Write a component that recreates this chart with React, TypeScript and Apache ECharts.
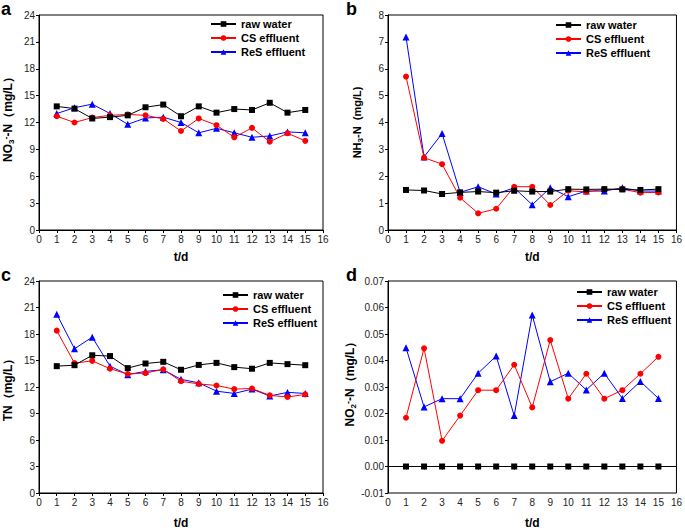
import React, { useEffect, useRef } from "react";
import * as echarts from "echarts";

const days = [1, 2, 3, 4, 5, 6, 7, 8, 9, 10, 11, 12, 13, 14, 15];
const seriesNames = ["raw water", "CS effluent", "ReS effluent"];

// Panel a: NO3- -N
const no3Raw = [13.8, 13.55, 12.45, 12.6, 12.8, 13.7, 14.0, 12.7, 13.8, 13.1, 13.5, 13.4, 14.2, 13.1, 13.4];
const no3CS = [12.7, 12.0, 12.55, 12.8, 12.9, 12.8, 12.4, 11.05, 12.45, 11.7, 10.35, 11.4, 9.85, 10.8, 9.95];
const no3ReS = [13.0, 13.65, 14.05, 13.0, 11.8, 12.5, 12.6, 12.0, 10.85, 11.35, 10.85, 10.35, 10.5, 10.95, 10.85];

// Panel b: NH3-N
const nh3Raw = [1.49, 1.47, 1.34, 1.4, 1.43, 1.39, 1.46, 1.43, 1.43, 1.52, 1.51, 1.52, 1.51, 1.49, 1.52];
const nh3CS = [5.71, 2.69, 2.45, 1.2, 0.62, 0.79, 1.61, 1.61, 0.93, 1.46, 1.42, 1.51, 1.52, 1.39, 1.4];
const nh3ReS = [7.18, 2.72, 3.59, 1.4, 1.61, 1.34, 1.57, 0.94, 1.57, 1.24, 1.45, 1.45, 1.57, 1.45, 1.45];

// Panel c: TN
const tnRaw = [14.36, 14.47, 15.59, 15.5, 14.14, 14.66, 14.85, 13.95, 14.5, 14.73, 14.25, 14.07, 14.73, 14.59, 14.47];
const tnCS = [18.38, 14.7, 14.96, 14.07, 13.47, 13.58, 14.0, 12.65, 12.35, 12.17, 11.76, 11.83, 11.05, 10.87, 11.16];
const tnReS = [20.24, 16.33, 17.64, 14.36, 13.4, 13.77, 13.95, 12.87, 12.47, 11.53, 11.27, 11.76, 10.98, 11.39, 11.27];

// Panel d: NO2- -N
const no2Raw = [0, 0, 0, 0, 0, 0, 0, 0, 0, 0, 0, 0, 0, 0, 0];
const no2CS = [0.0184, 0.0446, 0.0097, 0.0192, 0.0288, 0.0288, 0.0384, 0.0223, 0.0477, 0.0256, 0.035, 0.0256, 0.0288, 0.035, 0.0414];
const no2ReS = [0.0448, 0.0225, 0.0256, 0.0256, 0.0352, 0.0417, 0.0192, 0.0572, 0.032, 0.0352, 0.0289, 0.0352, 0.0257, 0.0321, 0.0257];

const panelLetters = ["a", "b", "c", "d"];
const yNames = [
  "NO{sub|3}{sup|-}-N（mg/L）",
  "NH{sub|3}-N  (mg/L)",
  "TN（mg/L）",
  "NO{sub|2}{sup|-}-N（mg/L）",
];
const yRanges = [
  [0, 24, 3],
  [0, 8, 1],
  [0, 24, 3],
  [-0.01, 0.07, 0.01],
];
const panelData = [
  [no3Raw, no3CS, no3ReS],
  [nh3Raw, nh3CS, nh3ReS],
  [tnRaw, tnCS, tnReS],
  [no2Raw, no2CS, no2ReS],
];

const FONT = "'Liberation Sans', Arial, Helvetica, sans-serif";
const colors = ["#000000", "#ff0000", "#0000ff"];
const symbols = ["rect", "circle", "triangle"];

const grids = [
  { left: 32, top: 15, width: 291, height: 215 },
  { left: 388, top: 15, width: 292, height: 215 },
  { left: 32, top: 281, width: 291, height: 215 },
  { left: 388, top: 281, width: 292, height: 215 },
];
const legendPos = [
  { left: 210, top: 18 },
  { left: 555, top: 19 },
  { left: 222, top: 289 },
  { left: 576, top: 286 },
];
const letterPos = [
  { left: 1, top: 0 },
  { left: 346, top: 0 },
  { left: 1, top: 266 },
  { left: 346, top: 266 },
];
const yNamePad = [
  [0, 0, 0, 12],
  [0, 0, 0, 0],
  [0, 0, 0, 0],
  [0, 0, 0, 12],
];
const yNameSize = [12, 11, 12, 12];
const xNameGap = [21, 21, 24, 24];

export default function App() {
  const ref = useRef<HTMLDivElement>(null);
  useEffect(() => {
    if (!ref.current) return;
    const chart = echarts.init(ref.current, null, { renderer: "svg" });
    const xAxis: any[] = [];
    const yAxis: any[] = [];
    const series: any[] = [];
    const legend: any[] = [];
    grids.forEach((g, i) => {
      xAxis.push({
        type: "value",
        gridIndex: i,
        min: 0,
        max: 16,
        interval: 1,
        name: "t/d",
        nameLocation: "middle",
        nameGap: xNameGap[i],
        nameTextStyle: { fontFamily: FONT, fontWeight: "bold", fontSize: 12, color: "#000" },
        axisLine: { lineStyle: { color: "#000", width: 1 } },
        axisTick: { show: true, length: 3, lineStyle: { color: "#000" } },
        axisLabel: { fontFamily: FONT, fontSize: 10, color: "#222", margin: 4 },
        splitLine: { show: false },
      });
      const [mn, mx, iv] = yRanges[i];
      yAxis.push({
        type: "value",
        gridIndex: i,
        min: mn,
        max: mx,
        interval: iv,
        name: yNames[i],
        nameLocation: "middle",
        nameGap: 24,
        nameTextStyle: {
          fontFamily: FONT,
          fontWeight: "bold",
          fontSize: yNameSize[i],
          color: "#000",
          lineHeight: 14,
          padding: yNamePad[i],
          rich: {
            sub: { fontFamily: FONT, fontWeight: "bold", fontSize: 8, lineHeight: 6, verticalAlign: "bottom", color: "#000" },
            sup: { fontFamily: FONT, fontWeight: "bold", fontSize: 9, lineHeight: 8, verticalAlign: "top", color: "#000" },
          },
        },
        axisLine: { show: true, lineStyle: { color: "#000", width: 1 } },
        axisTick: { show: true, length: 3, lineStyle: { color: "#000" } },
        axisLabel: {
          fontFamily: FONT,
          fontSize: 10,
          color: "#222",
          margin: 4,
          formatter: i === 3 ? (v: number) => v.toFixed(2) : (v: number) => String(v),
        },
        splitLine: { show: false },
      });
      panelData[i].forEach((vals, k) => {
        series.push({
          type: "line",
          name: seriesNames[k],
          xAxisIndex: i,
          yAxisIndex: i,
          data: days.map((d, j) => [d, vals[j]]),
          symbol: symbols[k],
          symbolSize: k === 2 ? 7 : 6,
          showSymbol: true,
          lineStyle: { color: colors[k], width: 1 },
          itemStyle: { color: colors[k] },
          z: 3 - k,
        });
      });
      legend.push({
        orient: "vertical",
        left: legendPos[i].left,
        top: legendPos[i].top,
        data: seriesNames,
        itemWidth: 25,
        itemHeight: 7,
        itemGap: 2,
        selectedMode: false,
        textStyle: { fontFamily: FONT, fontWeight: "bold", fontSize: 11, color: "#000", lineHeight: 12 },
        padding: 0,
      });
    });
    chart.setOption({
      animation: false,
      backgroundColor: "#fff",
      grid: grids.map((g) => ({ ...g, show: true, borderColor: "#000", borderWidth: 1, backgroundColor: "transparent" })),
      xAxis,
      yAxis,
      series,
      legend,
      graphic: panelLetters.map((t, i) => ({
        type: "text",
        left: letterPos[i].left,
        top: letterPos[i].top,
        style: { text: t, fontFamily: FONT, fontWeight: "bold", fontSize: 18, fill: "#000" },
      })),
    });
    return () => chart.dispose();
  }, []);
  return <div ref={ref} style={{ width: 685, height: 530, position: "absolute", left: 0, top: 0 }} />;
}
